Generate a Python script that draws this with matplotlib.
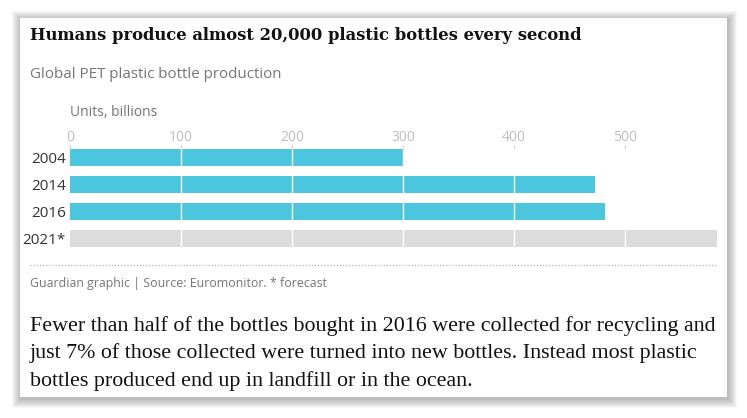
import matplotlib
matplotlib.use("Agg")
import matplotlib.pyplot as plt
from matplotlib.patches import Rectangle

# data
years = ["2004", "2014", "2016", "2021*"]
units = [300, 473, 482, 583]
forecast = [False, False, False, True]
ticks = [0, 100, 200, 300, 400, 500]

W, H = 747, 418
BLUE = "#4cc5de"
GREY = "#dcdcdc"


def fx(px):
    return px / W


def fy(py):
    return 1 - py / H


fig = plt.figure(figsize=(W / 100, H / 100), dpi=100)
fig.patch.set_facecolor("white")

# card with a soft shadow
for d in range(9, 0, -1):
    fig.patches.append(Rectangle((fx(20 - d + 1), fy(397 + d + 2)),
                                 fx(707 + 2 * d), (379 + 2 * d) / H,
                                 transform=fig.transFigure, facecolor="black",
                                 alpha=0.03, edgecolor="none", zorder=0))
fig.patches.append(Rectangle((fx(20), fy(397)), fx(707), 379 / H,
                             transform=fig.transFigure, facecolor="white",
                             edgecolor="none", zorder=1))

# titles
fig.text(fx(30), fy(36), "Humans produce almost 20,000 plastic bottles every second",
         fontsize=11.8, fontweight="bold", family="DejaVu Serif", color="#121212",
         va="center", ha="left", zorder=3)
fig.text(fx(30), fy(74), "Global PET plastic bottle production",
         fontsize=10.9, family="Open Sans", color="#767676", va="center", zorder=3)
fig.text(fx(70), fy(112), "Units, billions",
         fontsize=10, family="Open Sans", color="#767676", va="center", zorder=3)

# bars
ax = fig.add_axes([fx(70), fy(247), fx(717) - fx(70), 98 / H])
ax.set_zorder(2)
ax.patch.set_alpha(0)
ypos = list(range(len(years)))
colors = [GREY if f else BLUE for f in forecast]
ax.barh(ypos, units, height=0.65, color=colors, zorder=1)
for t in ticks[1:]:
    ax.axvline(t, color="white", lw=1, zorder=2)
ax.set_xlim(0, 583)
ax.set_ylim(3.325, -0.325)
ax.set_xticks(ticks)
ax.xaxis.tick_top()
ax.tick_params(axis="x", length=3, color="#cccccc", labelcolor="#bdbdbd",
               labelsize=10, pad=0)
for lab in ax.get_xticklabels():
    lab.set_family("Open Sans")
ax.set_yticks(ypos)
ax.set_yticklabels(years, family="Open Sans", fontsize=11, color="#333333")
ax.tick_params(axis="y", length=0, pad=3)
for s in ax.spines.values():
    s.set_visible(False)

# dotted rule and source
fig.add_artist(plt.Line2D([fx(30), fx(717)], [fy(265), fy(265)],
                          transform=fig.transFigure, color="#b5b5b5",
                          lw=0.9, ls=(0, (1, 1.5)), zorder=3))
fig.text(fx(30), fy(284), "Guardian graphic | Source: Euromonitor. * forecast",
         fontsize=8.9, family="Open Sans", color="#767676", va="center", zorder=3)

para = ["Fewer than half of the bottles bought in 2016 were collected for recycling and",
        "just 7% of those collected were turned into new bottles. Instead most plastic",
        "bottles produced end up in landfill or in the ocean."]
for i, line in enumerate(para):
    fig.text(fx(30), fy(326 + 27.5 * i), line, fontsize=15.8, family="Liberation Serif",
             color="#121212", va="center", zorder=3)

fig.savefig("out.png", dpi=100)
